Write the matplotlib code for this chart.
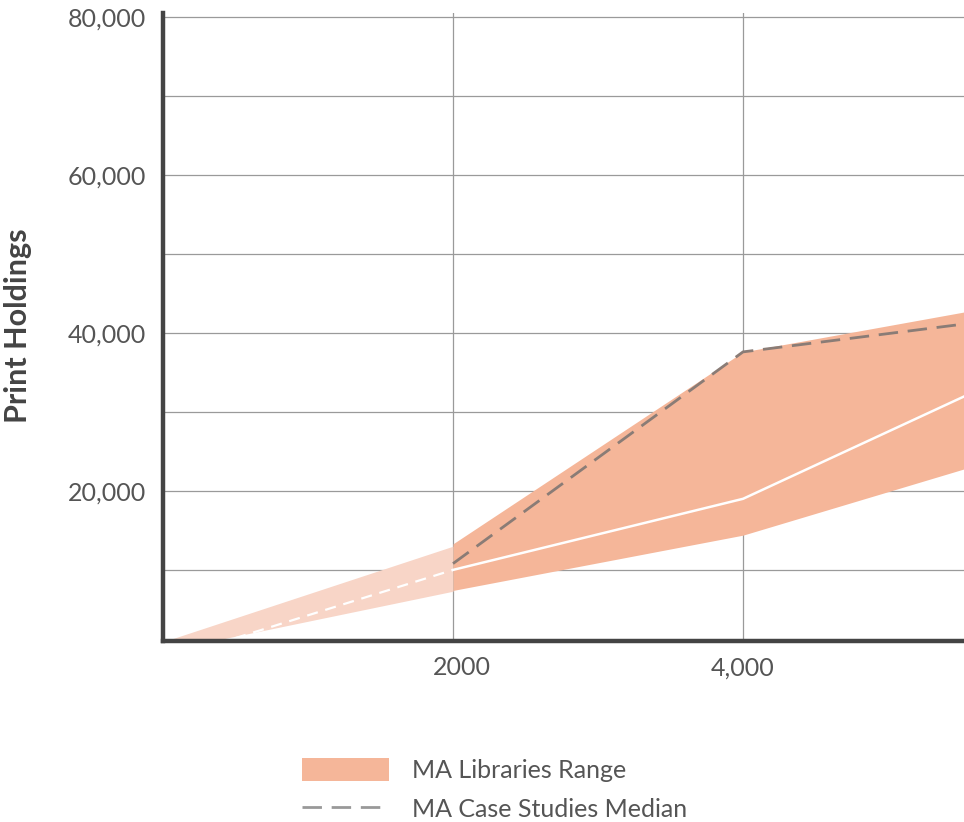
import matplotlib
matplotlib.use("Agg")
import matplotlib.pyplot as plt
import matplotlib.transforms as mtransforms
from matplotlib.patches import Patch
from matplotlib.lines import Line2D

plt.rcParams['font.family'] = ['Lato', 'DejaVu Sans']

# Light lead-in segment of the libraries range
lead_x = [0, 2000]
lead_upper = [900, 13000]
lead_lower = [-300, 7300]
lead_mid = [-1500, 10000]

# Main libraries range
range_x = [2000, 4000, 5600]
range_upper = [13300, 37600, 42900]
range_lower = [7400, 14400, 23200]
range_mid = [10000, 19000, 32600]

# Case studies median
median_x = [2000, 4000, 5600]
median_y = [10800, 37600, 41300]

y_ticks = [20000, 40000, 60000, 80000]
y_tick_labels = ['20,000', '40,000', '60,000', '80,000']
x_ticks = [2000, 4000]
x_tick_labels = ['2000', '4,000']

dark = '#F5B699'
light = '#F8D5C7'
grey = '#8A7C76'
text_col = '#555555'

fig = plt.figure(figsize=(9.64, 8.22), dpi=100)
ax = fig.add_axes([163 / 964, 1 - 641 / 822, 1 - 163 / 964, (641 - 13) / 822])

ax.fill_between(lead_x, lead_lower, lead_upper, color=light, lw=0, zorder=2)
ax.plot(lead_x, lead_mid, color='white', lw=1.6, dashes=(5, 3.5), zorder=3)
ax.fill_between(range_x, range_lower, range_upper, color=dark, lw=0, zorder=2)
ax.plot(range_x, range_mid, color='white', lw=1.8, zorder=3)
ax.plot(median_x, median_y, color=grey, lw=2.0, dashes=(7, 3.5), zorder=4)

ax.set_xlim(0, 5524)
ax.set_ylim(1000, 80500)

# grid
for gy in range(10000, 80001, 10000):
    ax.axhline(gy, color='#9a9a9a', lw=0.9, zorder=1)
for gx in x_ticks:
    ax.axvline(gx, color='#9a9a9a', lw=0.9, zorder=1)

ax.set_yticks(y_ticks)
ax.set_yticklabels(y_tick_labels)
ax.set_xticks(x_ticks)
ax.set_xticklabels(x_tick_labels)
ax.tick_params(length=0, labelsize=18, colors=text_col, pad=12)
ax.tick_params(axis='x', pad=11)

# the "2000" label sits a little right of its gridline in the original
lab = ax.xaxis.get_major_ticks()[0].label1
lab.set_transform(lab.get_transform() + mtransforms.ScaledTranslation(9 / 100, 0, fig.dpi_scale_trans))

for side in ['top', 'right']:
    ax.spines[side].set_visible(False)
for side in ['left', 'bottom']:
    ax.spines[side].set_color('#444444')
    ax.spines[side].set_linewidth(3.2)
    ax.spines[side].set_zorder(5)

ax.set_ylabel('Print Holdings', fontsize=22, fontweight='bold', color='#444444')
ax.yaxis.set_label_coords(-0.163, 0.502)

handles = [
    Patch(facecolor=dark, edgecolor='none', label='MA Libraries Range'),
    Line2D([0], [0], color='#999999', lw=2.0, dashes=(7, 3.5), label='MA Case Studies Median'),
]
fig.legend(handles=handles, loc='upper left', bbox_to_anchor=(279 / 964, 1 - 735 / 822),
           frameon=False, fontsize=18, handlelength=3.5, handleheight=1.05,
           handletextpad=0.9, labelspacing=0.62, labelcolor=text_col)

fig.savefig('out.png', dpi=100)
